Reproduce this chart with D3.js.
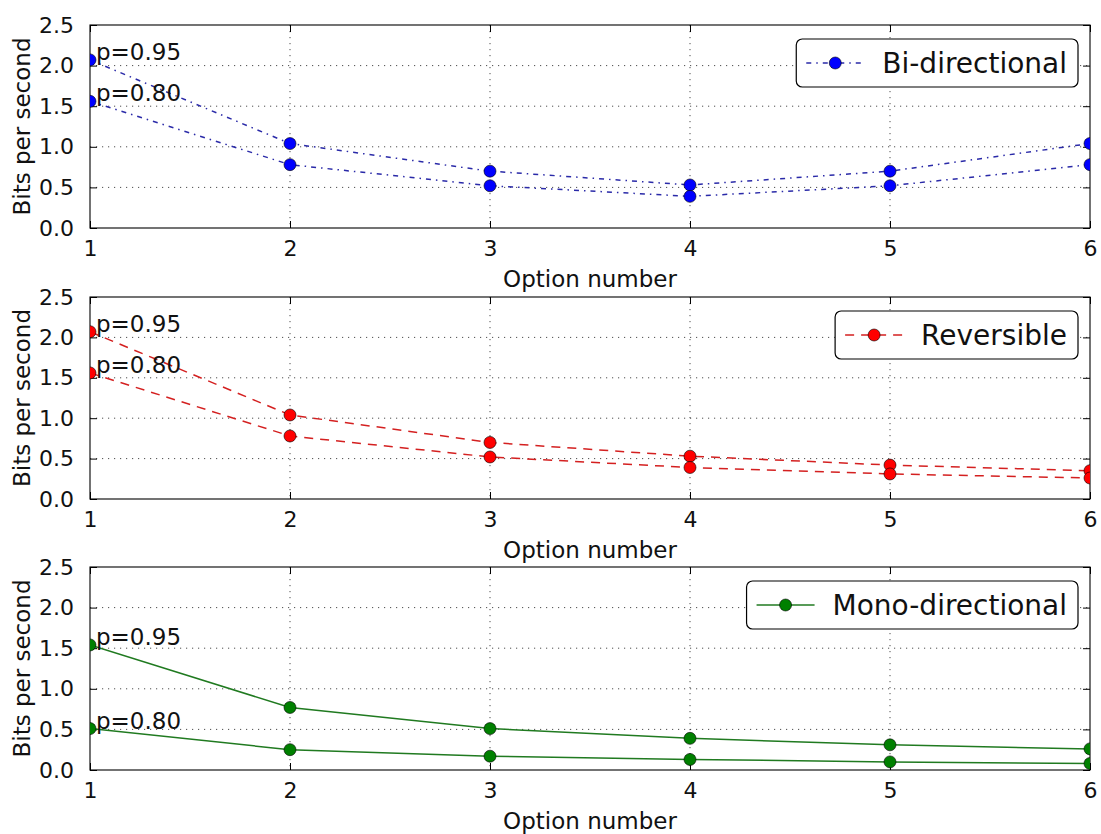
<!DOCTYPE html>
<html>
<head>
<meta charset="utf-8">
<script src="https://cdn.jsdelivr.net/npm/d3@7"></script>
<style>
  html, body { margin: 0; padding: 0; background: #fff; }
  svg { display: block; font-family: "DejaVu Sans", sans-serif; }
</style>
</head>
<body>
<svg id="chart" width="1101" height="834"></svg>
<script>
// ---- data ----
const options = [1, 2, 3, 4, 5, 6];
const yTicks = [0, 0.5, 1.0, 1.5, 2.0, 2.5];
const seriesNames = ["Bi-directional", "Reversible", "Mono-directional"];
const annotationLabels = ["p=0.95", "p=0.80"];

const biP95 = [2.07, 1.04, 0.70, 0.53, 0.70, 1.04];
const biP80 = [1.56, 0.78, 0.52, 0.39, 0.52, 0.78];
const revP95 = [2.07, 1.04, 0.70, 0.53, 0.42, 0.35];
const revP80 = [1.56, 0.78, 0.52, 0.39, 0.31, 0.26];
const monoP95 = [1.54, 0.77, 0.51, 0.39, 0.31, 0.26];
const monoP80 = [0.51, 0.25, 0.17, 0.13, 0.10, 0.08];

const xLabel = "Option number";
const yLabel = "Bits per second";

// ---- styling / layout ----
const panels = [
  { name: seriesNames[0], a: biP95, b: biP80, color: "#0000ff", line: "#2a2aa8", dash: "5,5,1.5,5", top: 25, bottom: 228 },
  { name: seriesNames[1], a: revP95, b: revP80, color: "#ff0000", line: "#d42020", dash: "9,7", top: 297, bottom: 499 },
  { name: seriesNames[2], a: monoP95, b: monoP80, color: "#008000", line: "#207a20", dash: null, top: 567, bottom: 770 }
];
const left = 90, right = 1090;
const svg = d3.select("#chart");

const x = d3.scaleLinear().domain([1, 6]).range([left, right]);

panels.forEach((p, i) => {
  const y = d3.scaleLinear().domain([0, 2.5]).range([p.bottom, p.top]);
  const g = svg.append("g");
  const clipId = "clip" + i;
  svg.append("clipPath").attr("id", clipId)
    .append("rect").attr("x", left).attr("y", p.top)
    .attr("width", right - left).attr("height", p.bottom - p.top);

  // grid
  g.append("g").selectAll("line.gy").data(yTicks.slice(1, -1)).join("line")
    .attr("x1", left).attr("x2", right)
    .attr("y1", d => y(d)).attr("y2", d => y(d))
    .attr("stroke", "#000").attr("stroke-width", 0.7).attr("stroke-dasharray", "1.2,4.8");
  g.append("g").selectAll("line.gx").data(options.slice(1, -1)).join("line")
    .attr("x1", d => x(d)).attr("x2", d => x(d))
    .attr("y1", p.top).attr("y2", p.bottom)
    .attr("stroke", "#000").attr("stroke-width", 0.7).attr("stroke-dasharray", "1.2,4.8");

  // axes with inward ticks
  const tl = 7;
  const xb = d3.axisBottom(x).tickValues(options).tickFormat(d3.format("d")).tickSizeInner(-tl).tickSizeOuter(0).tickPadding(tl + 5);
  const xt = d3.axisTop(x).tickValues(options).tickFormat("").tickSizeInner(-tl).tickSizeOuter(0);
  const yl = d3.axisLeft(y).tickValues(yTicks).tickFormat(d3.format(".1f")).tickSizeInner(-tl).tickSizeOuter(0).tickPadding(tl + 9);
  const yr = d3.axisRight(y).tickValues(yTicks).tickFormat("").tickSizeInner(-tl).tickSizeOuter(0);

  const axStyle = sel => {
    sel.selectAll("path.domain").remove();
    sel.selectAll("line").attr("stroke", "#000").attr("stroke-width", 1);
    sel.selectAll("text").attr("fill", "#111").style("font-size", "22px").style("font-family", "DejaVu Sans");
  };
  g.append("g").attr("transform", `translate(0,${p.bottom})`).call(xb).call(axStyle)
    .selectAll("text").attr("dy", "0.72em");
  g.append("g").attr("transform", `translate(0,${p.top})`).call(xt).call(axStyle);
  g.append("g").attr("transform", `translate(${left},0)`).call(yl).call(axStyle);
  g.append("g").attr("transform", `translate(${right},0)`).call(yr).call(axStyle);

  // frame
  g.append("rect").attr("x", left).attr("y", p.top)
    .attr("width", right - left).attr("height", p.bottom - p.top)
    .attr("fill", "none").attr("stroke", "#000").attr("stroke-width", 1.1);

  // lines & markers
  const line = d3.line().x((d, j) => x(options[j])).y(d => y(d));
  const data = g.append("g").attr("clip-path", `url(#${clipId})`);
  [p.a, p.b].forEach(vals => {
    data.append("path").attr("d", line(vals))
      .attr("fill", "none").attr("stroke", p.line).attr("stroke-width", 1.5)
      .attr("stroke-dasharray", p.dash);
    data.append("g").selectAll("circle").data(vals).join("circle")
      .attr("cx", (d, j) => x(options[j])).attr("cy", d => y(d)).attr("r", 6)
      .attr("fill", p.color).attr("stroke", "#000").attr("stroke-width", 0.6);
  });

  // annotations
  [p.a, p.b].forEach((vals, k) => {
    g.append("text").attr("x", x(options[0]) + 6).attr("y", y(vals[0]))
      .attr("fill", "#111").style("font-size", "23px").text(annotationLabels[k]);
  });

  // axis labels
  g.append("text").attr("x", (left + right) / 2).attr("y", p.bottom + 52)
    .attr("text-anchor", "middle").attr("dominant-baseline", "middle")
    .attr("fill", "#111").style("font-size", "23px").text(xLabel);
  g.append("text").attr("transform", `translate(23,${(p.top + p.bottom) / 2}) rotate(-90)`)
    .attr("text-anchor", "middle").attr("dominant-baseline", "middle")
    .attr("fill", "#111").style("font-size", "23px").text(yLabel);

  // legend
  const lg = g.append("g");
  const box = lg.append("rect");
  const txt = lg.append("text").style("font-size", "28px").attr("fill", "#111").text(p.name);
  const tw = txt.node().getComputedTextLength();
  const lRight = 1078, lTop = p.top + 14, lH = 48;
  const textX = lRight - 11 - tw;
  const sampleEnd = textX - 18, sampleStart = sampleEnd - 58;
  const lLeft = sampleStart - 10;
  txt.attr("x", textX).attr("y", lTop + lH / 2).attr("dominant-baseline", "central");
  box.attr("x", lLeft).attr("y", lTop).attr("width", lRight - lLeft).attr("height", lH)
    .attr("rx", 6).attr("fill", "#fff").attr("stroke", "#000").attr("stroke-width", 1.2);
  lg.append("line").attr("x1", sampleStart).attr("x2", sampleEnd)
    .attr("y1", lTop + lH / 2).attr("y2", lTop + lH / 2)
    .attr("stroke", p.line).attr("stroke-width", 1.5).attr("stroke-dasharray", p.dash);
  lg.append("circle").attr("cx", (sampleStart + sampleEnd) / 2).attr("cy", lTop + lH / 2).attr("r", 6)
    .attr("fill", p.color).attr("stroke", "#000").attr("stroke-width", 0.6);
});
</script>
</body>
</html>
